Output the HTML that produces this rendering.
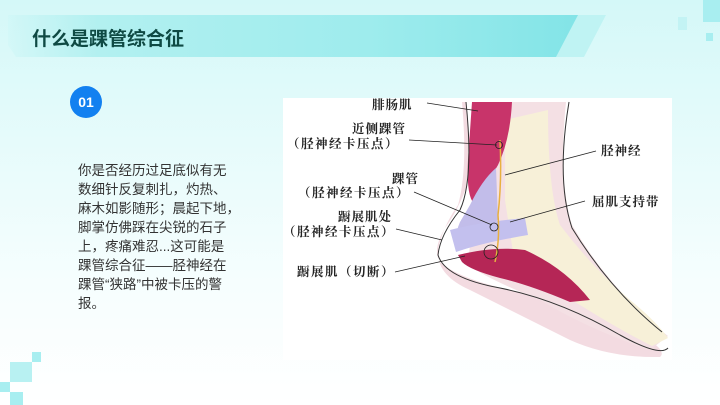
<!DOCTYPE html>
<html><head><meta charset="utf-8"><style>
*{margin:0;padding:0}
body{width:720px;height:405px;overflow:hidden;position:relative;background:linear-gradient(180deg,#d4f8f8 0%,#e6fbfb 35%,#f6fefe 70%,#ffffff 100%);font-family:"Liberation Sans","Noto Sans CJK SC",sans-serif}
.banner{position:absolute;left:8px;top:15px;width:600px;height:42px;background:linear-gradient(90deg,rgba(200,245,245,0.3) 0%,#b2f0f0 15%,#9eeced 60%,#7fe3e6 100%);clip-path:polygon(0 0,578px 0,552px 42px,8px 42px,0 30px)}
.stripe{position:absolute;top:15px;left:556px;width:50px;height:42px;background:#bff3f3;clip-path:polygon(22px 0,50px 0,28px 42px,0 42px)}
.title{position:absolute;left:32px;top:24px;font-size:19px;font-weight:bold;color:#0f4a44}
.sq{position:absolute;background:#a8eef0}
.num{position:absolute;left:70px;top:86px;width:32px;height:32px;border-radius:50%;background:#1280f0;color:#fff;font-size:14px;font-weight:bold;text-align:center;line-height:32px}
.txt{position:absolute;left:78px;top:161px;font-size:13.5px;line-height:19px;color:#333;white-space:nowrap}
.pic{position:absolute;left:283px;top:98px;width:389px;height:262px;background:#fff}
</style></head><body>
<div class="banner"></div><div class="stripe"></div>
<div class="title">什么是踝管综合征</div>
<div class="sq" style="left:703px;top:0;width:17px;height:22px"></div>
<div class="sq" style="left:678px;top:17px;width:9px;height:13px;background:#c3f3f4"></div>
<div class="sq" style="left:706px;top:33px;width:7px;height:8px"></div>
<div class="sq" style="left:32px;top:352px;width:9px;height:10px"></div>
<div class="sq" style="left:10px;top:362px;width:22px;height:20px;background:#b8f1f2"></div>
<div class="sq" style="left:0;top:382px;width:10px;height:10px"></div>
<div class="sq" style="left:10px;top:392px;width:13px;height:13px"></div>
<div class="num">01</div>
<div class="txt">你是否经历过足底似有无<br>数细针反复刺扎，灼热、<br>麻木如影随形；晨起下地，<br>脚掌仿佛踩在尖锐的石子<br>上，疼痛难忍...这可能是<br>踝管综合征——胫神经在<br>踝管“狭路”中被卡压的警<br>报。</div>
<div class="pic">
<svg width="389" height="262" viewBox="283 98 389 262" xmlns="http://www.w3.org/2000/svg" font-family="Liberation Serif,Noto Serif CJK SC,serif" font-size="12.5" font-weight="bold" fill="#222">
<path d="M466 102 L472 170 Q462 205 445 228 Q432 250 440 262 Q460 280 520 292 Q590 310 640 335 Q668 350 660 357 Q610 358 570 340 Q510 310 470 290 Q436 275 438 250 Q442 228 458 205 Q468 170 462 102Z" fill="#f3dbe1"/>
<path d="M478 102 L566 102 Q558 180 572 225 Q610 290 668 336 L650 350 Q590 330 540 300 Q490 280 468 265 Q470 225 488 195 Z" fill="#f4e0e4"/>
<path d="M505 120 L548 110 Q548 190 560 225 Q590 265 630 300 Q655 320 668 338 L652 346 Q620 330 580 305 Q545 285 515 265 L505 200Z" fill="#f7f0d8"/>
<path d="M472 102 L512 102 Q510 140 498 165 Q486 185 476 205 Q466 200 468 160Z" fill="#c8346a"/>
<path d="M470 205 Q482 180 496 168 L498 220 Q478 232 462 250 Q452 240 460 222Z" fill="#c2bdea"/>
<path d="M450 230 Q480 222 525 218 L528 235 Q485 242 456 252Z" fill="#c3c0ee"/>
<path d="M458 255 Q495 246 525 250 Q565 268 590 300 L570 302 Q530 285 500 278 Q470 270 462 262Z" fill="#b52656"/>
<path d="M466 102 Q474 180 460 210 Q440 235 438 255 Q445 278 500 288 Q560 300 620 335 Q660 357 668 348" fill="none" stroke="#333" stroke-width="1"/>
<path d="M569 102 Q556 180 572 228 Q610 290 662 332" fill="none" stroke="#333" stroke-width="1"/>
<path d="M500 140 Q502 180 498 215 Q500 240 495 262" fill="none" stroke="#e8b040" stroke-width="1.5"/>
<g stroke="#222" stroke-width="0.8" fill="none">
<line x1="427" y1="103" x2="478" y2="111"/><line x1="409" y1="140" x2="497" y2="145"/><circle cx="499" cy="145" r="3.5"/>
<line x1="596" y1="151" x2="505" y2="175"/><line x1="414" y1="192" x2="492" y2="225"/><circle cx="494" cy="227" r="4"/>
<line x1="585" y1="201" x2="510" y2="222"/><line x1="396" y1="229" x2="442" y2="240"/>
<line x1="395" y1="272" x2="465" y2="256"/><circle cx="491" cy="252" r="7"/>
</g>
<text x="372" y="109" letter-spacing="1">腓肠肌</text>
<text x="352" y="133" letter-spacing="1">近侧踝管</text>
<text x="287" y="148" letter-spacing="1.5">（胫神经卡压点）</text>
<text x="601" y="155" letter-spacing="1">胫神经</text>
<text x="392" y="183" letter-spacing="1">踝管</text>
<text x="298" y="197" letter-spacing="1.5">（胫神经卡压点）</text>
<text x="592" y="206" letter-spacing="1">屈肌支持带</text>
<text x="338" y="221" letter-spacing="1">蹰展肌处</text>
<text x="283" y="236" letter-spacing="1.5">（胫神经卡压点）</text>
<text x="297" y="276" letter-spacing="1.5">蹰展肌（切断）</text>
</svg></div>
</body></html>
